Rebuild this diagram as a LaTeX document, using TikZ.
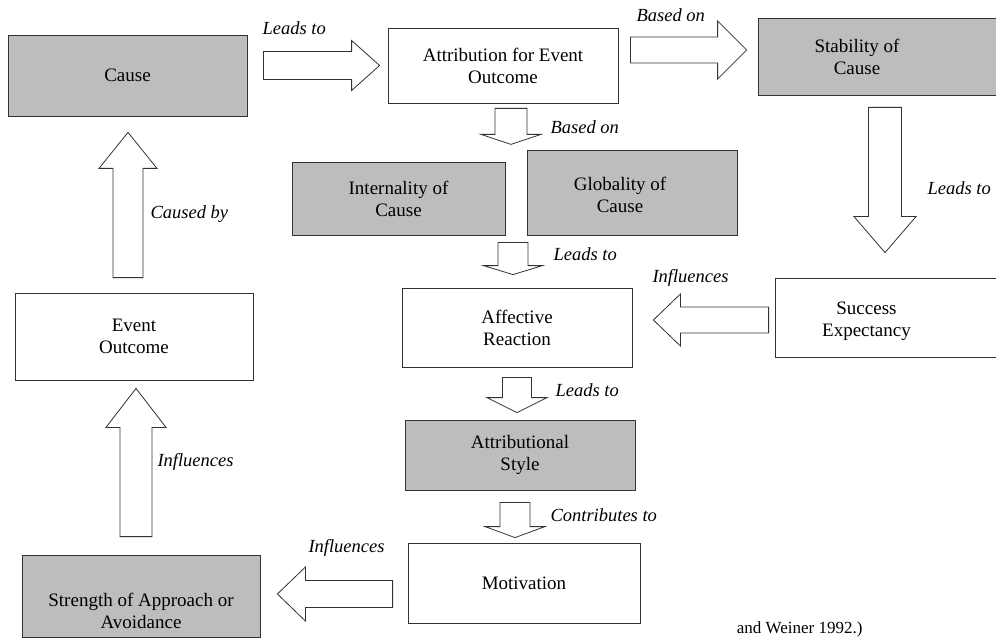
\documentclass[tikz,border=0pt]{standalone}
\usepackage{fontspec}
\setmainfont{Liberation Serif}
\usetikzlibrary{calc}

% fat block arrow: start, tip, shaft half width, head half width, head length
\newcommand{\fatarrow}[5]{%
  \coordinate (fa-s) at (#1);
  \coordinate (fa-t) at (#2);
  \coordinate (fa-h) at ($(fa-t)!#5!(fa-s)$);
  \draw[fat] ($(fa-s)!#3!90:(fa-t)$) -- ($(fa-h)!#3!90:(fa-t)$) -- ($(fa-h)!#4!90:(fa-t)$) -- (fa-t)
    -- ($(fa-h)!#4!-90:(fa-t)$) -- ($(fa-h)!#3!-90:(fa-t)$) -- ($(fa-s)!#3!-90:(fa-t)$) -- cycle;}

\begin{document}
\begin{tikzpicture}[
    x=1pt, y=-1pt,
    every node/.style={font=\fontsize{19}{22}\selectfont},
    box/.style={rectangle, draw=black!80, line width=0.8pt, fill=white, align=center, inner sep=0pt},
    gbox/.style={box, fill=black!26},
    fat/.style={draw=black!80, line width=0.8pt, fill=white, line join=miter},
    lbl/.style={font=\fontsize{18.5}{22}\selectfont\itshape, anchor=west}
]
    \useasboundingbox (0,0) rectangle (996,639);
    \clip (0,0) rectangle (996,639);
    \fill[white] (0,0) rectangle (996,639);

    % Main blocks
    \node[gbox, minimum width=239pt, minimum height=81pt] (cause) at (127.5,75.5) {Cause};
    \node[box, minimum width=230pt, minimum height=75pt] (attr) at (503,65.5) {Attribution for Event\\Outcome};
    \node[gbox, minimum width=252pt, minimum height=77pt,
          label={[xshift=-27pt, align=center]center:Stability of\\Cause}] (stab) at (884,56.5) {};
    \node[gbox, minimum width=213pt, minimum height=73pt] (intern) at (398.5,198.5) {Internality of\\Cause};
    \node[gbox, minimum width=210pt, minimum height=85pt,
          label={[xshift=-12pt, yshift=-2pt, align=center]center:Globality of\\Cause}] (glob) at (632,192.5) {};
    \node[box, minimum width=230pt, minimum height=79pt] (affect) at (517,327.5) {Affective\\Reaction};
    \node[box, minimum width=235pt, minimum height=79pt,
          label={[xshift=-26pt, yshift=-4pt, align=center]center:Success\\Expectancy}] (success) at (892.5,317.5) {};
    \node[box, minimum width=238pt, minimum height=87pt] (event) at (134,336.5) {Event\\Outcome};
    \node[gbox, minimum width=230pt, minimum height=70pt] (attstyle) at (520,455) {Attributional\\Style};
    \node[box, minimum width=232pt, minimum height=80pt] (motiv) at (524,583) {Motivation};
    \node[gbox, minimum width=238pt, minimum height=82pt,
          label={[yshift=-15pt, align=center]center:Strength of Approach or\\Avoidance}] (strength) at (141,596) {};

    % Arrows
    \fatarrow{$(cause.east)+(16,-10)$}{$(attr.west)+(-8,0)$}{14pt}{25pt}{28pt}
    \fatarrow{$(attr.east)+(12,-15.5)$}{$(stab.west)+(-11,-6.5)$}{13pt}{29pt}{29pt}
    \fatarrow{$(attr.south)+(8,5)$}{$(attr.south)+(8,41)$}{16pt}{30pt}{10pt}
    \fatarrow{$(affect.north)+(-4,-45)$}{$(affect.north)+(-4,-13)$}{15pt}{29.5pt}{9pt}
    \fatarrow{$(affect.south)+(0,10)$}{$(attstyle.north)+(-3,-7)$}{14.5pt}{30pt}{15pt}
    \fatarrow{$(attstyle.south)+(-5,12)$}{$(motiv.north)+(-9,-5)$}{15pt}{30pt}{11pt}
    \fatarrow{$(stab.south)+(1,12)$}{$(success.north)+(-7.5,-25)$}{16.5pt}{31pt}{36pt}
    \fatarrow{$(success.west)+(-6,2.5)$}{$(affect.east)+(21,-7.5)$}{13pt}{26pt}{27pt}
    \fatarrow{$(event.north)+(-6,-15)$}{$(cause.south)+(0.5,16)$}{15pt}{29pt}{36pt}
    \fatarrow{$(strength.north)+(-5,-18)$}{$(event.south)+(2,8)$}{16pt}{30pt}{39pt}
    \fatarrow{$(motiv.west)+(-15,11)$}{$(strength.east)+(17,-2)$}{13.5pt}{27pt}{28pt}

    % Labels
    \node[lbl] (l-leads1) at (259,28) {Leads to};
    \node[lbl] (l-based1) at (633,15) {Based on};
    \node[lbl] (l-based2) at (547,127) {Based on};
    \node[lbl] (l-leads2) at (924,188) {Leads to};
    \node[lbl] (l-leads3) at (550,254) {Leads to};
    \node[lbl] (l-infl1) at (649,278) {Influences};
    \node[lbl] (l-caused) at (147,214) {Caused by};
    \node[lbl] (l-leads4) at (552,390) {Leads to};
    \node[lbl] (l-infl2) at (154,462) {Influences};
    \node[lbl] (l-contrib) at (547,515) {Contributes to};
    \node[lbl] (l-infl3) at (305,548) {Influences};
    \node[anchor=base east, font=\fontsize{17}{20}\selectfont] (caption) at (866,633) {and Weiner 1992.)};
\end{tikzpicture}
\end{document}
